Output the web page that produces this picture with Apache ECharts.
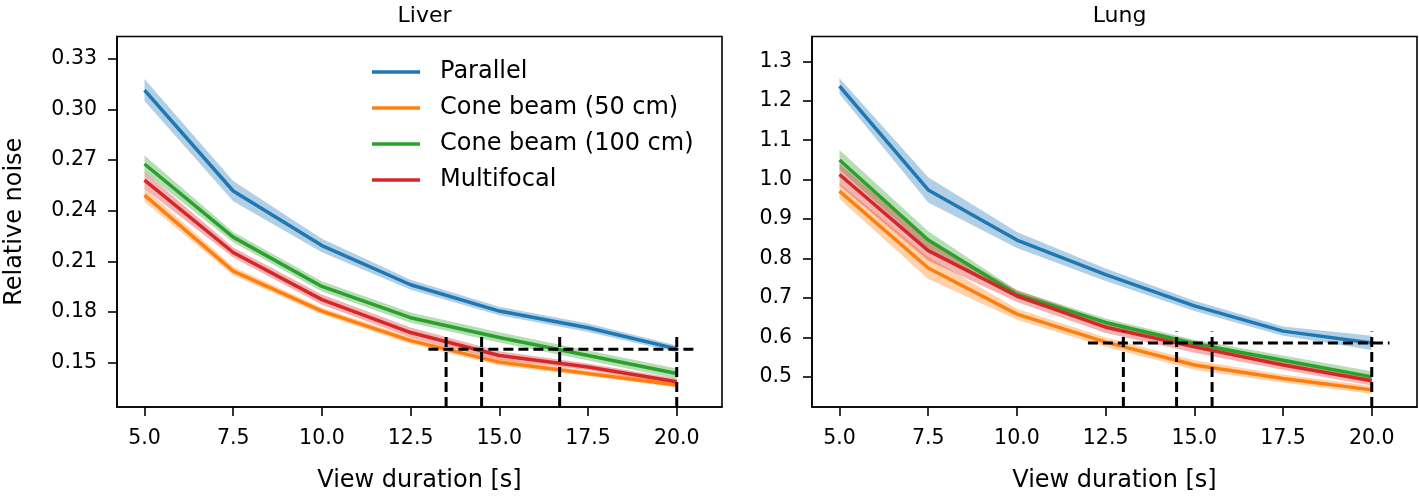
<!DOCTYPE html>
<html>
<head>
<meta charset="utf-8">
<script src="https://cdn.jsdelivr.net/npm/echarts@6/dist/echarts.min.js"></script>
<style>
  html, body { margin: 0; padding: 0; background: #fff; }
  #chart { width: 1419px; height: 498px; }
</style>
</head>
<body>
<div id="chart"></div>
<script>
// view durations (x) shared by both panels
const durations = [5, 7.5, 10, 12.5, 15, 17.5, 20]
const seriesNames = ['Parallel', 'Cone beam (50 cm)', 'Cone beam (100 cm)', 'Multifocal']
const colors = ['#1f77b4', '#ff7f0e', '#2ca02c', '#d62728']

// Liver: mean relative noise
const liverParallel = [0.3115, 0.2517, 0.2194, 0.1962, 0.1806, 0.1707, 0.1582]
const liverCone50 = [0.2493, 0.2043, 0.1806, 0.1631, 0.1504, 0.1436, 0.1368]
const liverCone100 = [0.2677, 0.2244, 0.1952, 0.1767, 0.1650, 0.1543, 0.1436]
const liverMulti = [0.2581, 0.2153, 0.1874, 0.1679, 0.1543, 0.1475, 0.1387]
// Liver: band half widths
const liverParallelErr = [0.0065, 0.006, 0.004, 0.003, 0.0025, 0.0025, 0.002]
const liverCone50Err = [0.004, 0.0025, 0.002, 0.002, 0.002, 0.0015, 0.0015]
const liverCone100Err = [0.005, 0.003, 0.003, 0.003, 0.003, 0.003, 0.003]
const liverMultiErr = [0.005, 0.003, 0.003, 0.003, 0.0025, 0.002, 0.002]

// Lung: mean relative noise
const lungParallel = [1.237, 0.974, 0.847, 0.759, 0.680, 0.616, 0.586]
const lungCone50 = [0.971, 0.776, 0.659, 0.588, 0.530, 0.496, 0.467]
const lungCone100 = [1.050, 0.847, 0.709, 0.638, 0.584, 0.542, 0.500]
const lungMulti = [1.013, 0.820, 0.705, 0.626, 0.576, 0.530, 0.490]
// Lung: band half widths
const lungParallelErr = [0.02, 0.032, 0.02, 0.016, 0.013, 0.012, 0.018]
const lungCone50Err = [0.02, 0.028, 0.014, 0.012, 0.012, 0.01, 0.01]
const lungCone100Err = [0.025, 0.022, 0.01, 0.01, 0.01, 0.012, 0.014]
const lungMultiErr = [0.028, 0.025, 0.015, 0.015, 0.015, 0.012, 0.012]

// threshold guides
const liverThreshold = 0.158
const liverThresholdSpan = [13, 20.5]
const liverCrossings = [13.5, 14.5, 16.7, 20]
const liverCrossTop = 0.166
const lungThreshold = 0.586
const lungThresholdSpan = [12, 20.5]
const lungCrossings = [13.0, 14.5, 15.5, 20]
const lungCrossTop = 0.615

// tick labels
const xTicks = [5, 7.5, 10, 12.5, 15, 17.5, 20]
const liverTicks = [0.15, 0.18, 0.21, 0.24, 0.27, 0.30, 0.33]
const lungTicks = [0.5, 0.6, 0.7, 0.8, 0.9, 1.0, 1.1, 1.2, 1.3]

const xRange = [4.225, 21.275]
const liverRange = [0.1238, 0.3432]
const lungRange = [0.4236, 1.363]

const FONT = 'DejaVu Sans'

const panels = [
  {
    title: 'Liver', left: 117, range: liverRange, ticks: liverTicks, digits: 2,
    means: [liverParallel, liverCone50, liverCone100, liverMulti],
    errs: [liverParallelErr, liverCone50Err, liverCone100Err, liverMultiErr],
    threshold: liverThreshold, span: liverThresholdSpan, crossings: liverCrossings, crossTop: liverCrossTop
  },
  {
    title: 'Lung', left: 812, range: lungRange, ticks: lungTicks, digits: 1,
    means: [lungParallel, lungCone50, lungCone100, lungMulti],
    errs: [lungParallelErr, lungCone50Err, lungCone100Err, lungMultiErr],
    threshold: lungThreshold, span: lungThresholdSpan, crossings: lungCrossings, crossTop: lungCrossTop
  }
]

const gridW = 605
const gridTop = 36.5
const gridH = 375

let grids = []
let xAxes = []
let yAxes = []
let titles = []
let series = []

// filled band between lo and hi, drawn as one polygon through the axis scales
const bandRenderer = (rows, color) => (params, api) => {
  if (params.dataIndex !== 0) return null
  const upper = rows.map(r => api.coord([r[0], r[2]]))
  const lower = rows.map(r => api.coord([r[0], r[1]])).reverse()
  return {
    type: 'polygon',
    shape: { points: upper.concat(lower) },
    style: { fill: color, opacity: 0.35 }
  }
}

panels.forEach((p, pi) => {
  grids.push({
    left: p.left, top: gridTop, width: gridW, height: gridH,
    show: true, borderColor: '#000', borderWidth: 1.6, backgroundColor: 'transparent'
  })
  titles.push({
    text: p.title, left: p.left + gridW / 2, top: 0, textAlign: 'center',
    textStyle: { fontFamily: FONT, fontSize: 22, fontWeight: 'normal', color: '#000' }
  })
  xAxes.push({
    type: 'value', gridIndex: pi, min: xRange[0], max: xRange[1],
    name: 'View duration [s]', nameLocation: 'middle', nameGap: 62,
    nameTextStyle: { fontFamily: FONT, fontSize: 24, color: '#000' },
    axisLine: { show: true, onZero: false, lineStyle: { color: '#000', width: 1.6 } },
    axisTick: { show: true, length: 9, customValues: xTicks, lineStyle: { color: '#000', width: 1.6 } },
    axisLabel: {
      customValues: xTicks, margin: 21, color: '#000', fontFamily: FONT, fontSize: 20.5,
      formatter: v => Number(v).toFixed(1)
    },
    splitLine: { show: false }
  })
  yAxes.push({
    type: 'value', gridIndex: pi, min: p.range[0], max: p.range[1],
    name: pi === 0 ? 'Relative noise' : '', nameLocation: 'middle', nameGap: 90, nameRotate: 90,
    nameTextStyle: { fontFamily: FONT, fontSize: 24, color: '#000' },
    axisLine: { show: true, onZero: false, lineStyle: { color: '#000', width: 1.6 } },
    axisTick: { show: true, length: 9, customValues: p.ticks, lineStyle: { color: '#000', width: 1.6 } },
    axisLabel: {
      customValues: p.ticks, margin: 20, color: '#000', fontFamily: FONT, fontSize: 20.5,
      formatter: v => Number(v).toFixed(p.digits)
    },
    splitLine: { show: false }
  })

  p.means.forEach((vals, si) => {
    const err = p.errs[si]
    const rows = durations.map((x, i) => [x, vals[i] - err[i], vals[i] + err[i]])
    series.push({
      type: 'custom', xAxisIndex: pi, yAxisIndex: pi, silent: true,
      data: rows, encode: { x: 0, y: [1, 2] },
      renderItem: bandRenderer(rows, colors[si]), z: 1
    })
    series.push({
      name: seriesNames[si], type: 'line', xAxisIndex: pi, yAxisIndex: pi,
      data: durations.map((x, i) => [x, vals[i]]),
      showSymbol: false, symbol: 'none', color: colors[si],
      lineStyle: { color: colors[si], width: 3.5 }, z: 3
    })
  })

  const dashed = { color: '#000', width: 3, type: [10, 5] }
  series.push({
    type: 'line', xAxisIndex: pi, yAxisIndex: pi, silent: true,
    data: [[p.span[0], p.threshold], [p.span[1], p.threshold]],
    showSymbol: false, symbol: 'none', lineStyle: dashed, z: 4
  })
  p.crossings.forEach(x => {
    series.push({
      type: 'line', xAxisIndex: pi, yAxisIndex: pi, silent: true,
      data: [[x, p.range[0]], [x, p.crossTop]],
      showSymbol: false, symbol: 'none', lineStyle: dashed, z: 4
    })
  })
})

const chart = echarts.init(document.getElementById('chart'), null, { renderer: 'canvas' })
chart.setOption({
  animation: false,
  backgroundColor: '#fff',
  title: titles,
  grid: grids,
  xAxis: xAxes,
  yAxis: yAxes,
  legend: {
    data: seriesNames, orient: 'vertical', left: 372, top: 58, padding: 0,
    icon: 'rect', itemWidth: 48, itemHeight: 3.5, itemGap: 8,
    textStyle: { fontFamily: FONT, fontSize: 24, color: '#000', lineHeight: 28, padding: [0, 0, 0, 15] }
  },
  series: series
})
</script>
</body>
</html>
